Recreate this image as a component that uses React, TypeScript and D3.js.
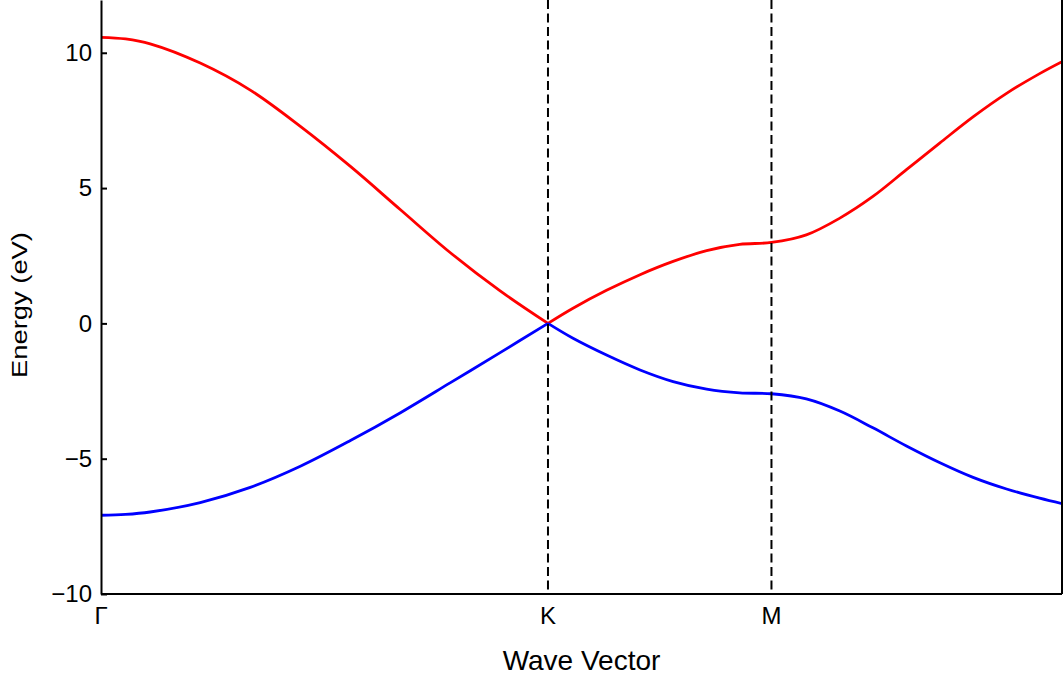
import React, { useEffect, useRef } from 'react'
import * as d3 from 'd3'

// high symmetry points along the path (in units of |ΓK|)
const kLabels = ['Γ', 'K', 'M']
const kPositions = [0, 1, 1.5]
const kMax = 2.15

const waveVector = [
  0, 0.055, 0.11, 0.222, 0.334, 0.446, 0.558, 0.67, 0.781, 0.893, 1.0, 1.056, 1.131, 1.206, 1.28,
  1.355, 1.429, 1.5, 1.578, 1.653, 1.727, 1.802, 1.877, 1.951, 2.026, 2.1, 2.15,
]
const conductionBand = [
  10.57, 10.51, 10.33, 9.62, 8.62, 7.28, 5.8, 4.2, 2.62, 1.2, 0, 0.56, 1.22, 1.8, 2.29, 2.69, 2.92,
  2.99, 3.27, 3.89, 4.69, 5.68, 6.67, 7.63, 8.5, 9.23, 9.67,
]
const valenceBand = [
  -7.09, -7.06, -6.97, -6.62, -6.06, -5.28, -4.33, -3.3, -2.2, -1.08, 0, -0.55, -1.17, -1.72, -2.15,
  -2.43, -2.57, -2.6, -2.79, -3.24, -3.86, -4.53, -5.15, -5.69, -6.12, -6.46, -6.66,
]
const energyTicks = [-10, -5, 0, 5, 10]
const energyRange = [-10, 11.95]

const bands = [
  { name: 'conduction', values: conductionBand, color: '#ff0000' },
  { name: 'valence', values: valenceBand, color: '#0000ff' },
]

const width = 1063
const height = 676
const font = '"Liberation Sans", Arial, sans-serif'

const BandStructure = () => {
  const svgRef = useRef<SVGSVGElement>(null)

  useEffect(() => {
    const svg = d3.select(svgRef.current)
    svg.selectAll('*').remove()

    const left = 101
    const right = 1062
    const top = 0
    const bottom = 594

    const x = d3.scaleLinear().domain([0, kMax]).range([left, right])
    const y = d3.scaleLinear().domain(energyRange).range([bottom, top])

    svg
      .append('defs')
      .append('clipPath')
      .attr('id', 'plot-clip')
      .append('rect')
      .attr('x', left)
      .attr('y', top)
      .attr('width', right - left)
      .attr('height', bottom - top)

    // band lines, split at K so the Dirac cone keeps its cusp
    const kIndex = waveVector.indexOf(1)
    const line = d3
      .line<[number, number]>()
      .x((d) => x(d[0]))
      .y((d) => y(d[1]))
      .curve(d3.curveCatmullRom.alpha(0.5))

    const plot = svg.append('g').attr('clip-path', 'url(#plot-clip)')
    bands.forEach((band) => {
      const pts: [number, number][] = waveVector.map((k, i) => [k, band.values[i]])
      const segments = [pts.slice(0, kIndex + 1), pts.slice(kIndex)]
      segments.forEach((seg) => {
        plot
          .append('path')
          .attr('d', line(seg))
          .attr('fill', 'none')
          .attr('stroke', band.color)
          .attr('stroke-width', 2.8)
      })
    })

    // dashed markers at K and M
    svg
      .append('g')
      .selectAll('line')
      .data(kPositions.filter((k) => k > 0))
      .join('line')
      .attr('x1', (d) => x(d))
      .attr('x2', (d) => x(d))
      .attr('y1', top)
      .attr('y2', bottom)
      .attr('stroke', '#000')
      .attr('stroke-width', 2)
      .attr('stroke-dasharray', '9 4.5')

    // y axis with inward ticks
    const yAxis = svg
      .append('g')
      .attr('transform', `translate(${left},0)`)
      .call(d3.axisLeft(y).tickValues(energyTicks).tickSizeInner(-6).tickSizeOuter(0).tickPadding(9))
    yAxis.select('.domain').attr('stroke-width', 2)
    yAxis.selectAll('.tick line').attr('stroke-width', 2)
    yAxis
      .selectAll('.tick text')
      .attr('font-family', font)
      .attr('font-size', 24)
      .attr('fill', '#000')

    // bottom axis and right frame
    svg
      .append('line')
      .attr('x1', left)
      .attr('x2', right)
      .attr('y1', bottom)
      .attr('y2', bottom)
      .attr('stroke', '#000')
      .attr('stroke-width', 2)
    svg
      .append('line')
      .attr('x1', right)
      .attr('x2', right)
      .attr('y1', top)
      .attr('y2', bottom)
      .attr('stroke', '#000')
      .attr('stroke-width', 2)

    svg
      .append('g')
      .selectAll('text')
      .data(kLabels)
      .join('text')
      .attr('x', (d, i) => x(kPositions[i]))
      .attr('y', bottom + 30)
      .attr('text-anchor', 'middle')
      .attr('font-family', font)
      .attr('font-size', 24)
      .text((d) => d)

    svg
      .append('text')
      .attr('x', (left + right) / 2)
      .attr('y', 670)
      .attr('text-anchor', 'middle')
      .attr('font-family', font)
      .attr('font-size', 28)
      .text('Wave Vector')

    svg
      .append('text')
      .attr('transform', `translate(27,305) rotate(-90)`)
      .attr('text-anchor', 'middle')
      .attr('font-family', font)
      .attr('font-size', 22)
      .attr('textLength', 146)
      .attr('lengthAdjust', 'spacingAndGlyphs')
      .text('Energy (eV)')
  }, [])

  return (
    <svg
      ref={svgRef}
      width={width}
      height={height}
      style={{ position: 'absolute', left: 0, top: 0, background: '#fff' }}
    ></svg>
  )
}

export default function App() {
  return <BandStructure />
}
